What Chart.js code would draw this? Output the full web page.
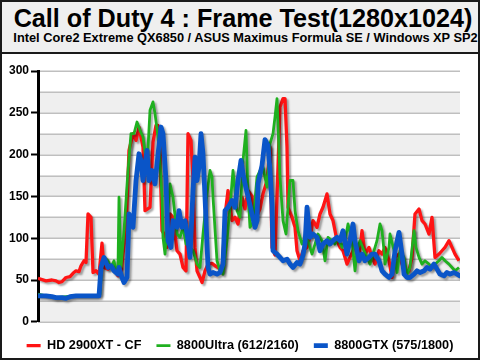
<!DOCTYPE html>
<html>
<head>
<meta charset="utf-8">
<script src="https://cdn.jsdelivr.net/npm/chart.js@4.4.0/dist/chart.umd.min.js"></script>
<style>
  html, body { margin: 0; padding: 0; background: #fff; }
  #frame {
    position: relative; width: 480px; height: 360px; box-sizing: border-box;
    border: 2px solid #1a1a1a; overflow: hidden; background: #fff;
    font-family: 'Liberation Sans', Arial, sans-serif; color: #000;
  }
  #header {
    position: absolute; left: 0; top: 0; width: 476px; height: 50px;
    background: #efefef; border-bottom: 2px solid #1a1a1a;
  }
  #title, #subtitle {
    position: absolute; width: 476px; text-align: center; font-weight: bold; white-space: nowrap;
  }
  #title { left: 3px; top: 3.8px; font-size: 25.2px; line-height: 25px; }
  #subtitle { left: 5.5px; top: 28.8px; font-size: 12.8px; line-height: 13px; }
  #plot { position: absolute; left: 0; top: 52px; }
</style>
</head>
<body>
<div id="frame">
  <div id="header">
    <div id="title">Call of Duty 4 : Frame Test(1280x1024)</div>
    <div id="subtitle">Intel Core2 Extreme QX6850 / ASUS Maximus Formula SE / Windows XP SP2</div>
  </div>
  <canvas id="plot" width="476" height="308"></canvas>
</div>
<script>
// --- DATA (sample index along the run, frames per second) ---
const seriesNames = ['HD 2900XT - CF', '8800Ultra (612/2160)', '8800GTX (575/1800)'];
const yTicks = [0, 50, 100, 150, 200, 250, 300];

const hdTime = [0, 4, 7, 9, 10.5, 12, 14, 16, 17.5, 19, 20.5, 21.5, 23, 24, 25, 26.5, 27.5, 29, 30.5, 32,
  33, 35, 36.5, 38, 40, 41.5, 42.5, 44, 45.5, 47.5, 49, 50.5, 52.5, 53.5, 56, 57.5, 59, 60, 61, 62,
  63, 64.5, 66, 67.5, 69.5, 71, 72.5, 74, 75, 76.5, 77.5, 78.5, 79.5, 81, 82, 83.5, 85, 87, 88.5, 90,
  92, 92.5, 94, 95, 97, 98.5, 100, 102, 103.5, 105, 107, 108.5, 111, 112.5, 114.5, 116, 117, 118.5, 119.5, 121,
  122.5, 123.5, 124.5, 125, 127, 128.5, 129.5, 131, 132.5, 134.5, 136, 137.5, 139.5, 141, 142.5, 144.5, 146, 147.5, 149.5, 151,
  152.5, 154.5, 156, 157.5, 158.5, 160.5, 162, 163.5, 165.5, 167, 168.5, 170.5, 172, 173.5, 175.5, 177, 178.5, 180.5, 182, 183.5,
  185.5, 187, 188.5, 190.5, 192, 193.5, 195.5, 197, 198.5, 200.5, 202, 203.5, 205.5, 207, 208.5, 210.5];
const hdFps = [52, 49, 50, 49, 47, 48, 53, 54, 58, 61, 60, 67, 73, 71, 129, 125, 59, 61, 57, 94,
  65, 63, 67, 62, 55, 57, 81, 109, 205, 225, 217, 233, 209, 133, 137, 215, 235, 235, 197, 109,
  105, 89, 129, 125, 85, 81, 65, 61, 225, 217, 169, 89, 61, 53, 47, 61, 69, 70, 67, 65,
  61, 81, 137, 157, 121, 125, 117, 149, 135, 157, 150, 121, 135, 153, 169, 209, 89, 80, 150, 257,
  267, 267, 209, 137, 125, 113, 85, 73, 85, 89, 101, 121, 113, 129, 137, 153, 129, 121, 97, 89,
  85, 69, 77, 85, 93, 77, 109, 81, 89, 77, 69, 85, 81, 89, 73, 53, 77, 81, 69, 61,
  61, 77, 129, 135, 121, 117, 105, 125, 77, 81, 85, 89, 97, 89, 81, 73];

const ultraTime = [0, 4, 9, 14, 19, 24, 29, 31, 32, 33, 35, 36.5, 38, 39, 40, 40.5, 41.5, 43, 45, 46.5,
  48, 49.5, 51, 52.5, 54.5, 56, 57.5, 58.5, 60, 61, 62, 62.5, 63.5, 65, 66, 67.5, 69.5, 71, 72.5, 74,
  75, 76, 77.5, 79.5, 81, 82.5, 84.5, 86, 87, 87.5, 89.5, 91, 92.5, 94.5, 96, 97.5, 99.5, 101, 102.5, 104,
  105, 106, 107.5, 109.5, 111, 112.5, 114.5, 116, 117.5, 118.5, 119.5, 121, 122.5, 124, 125, 126, 127.5, 128.5, 130, 132,
  133.5, 135, 137, 138.5, 140, 142, 143.5, 145, 147, 148.5, 150, 152, 153.5, 155, 157, 158.5, 159.5, 161, 163, 164.5,
  166, 168, 169.5, 171, 172, 173, 173.5, 175.5, 176, 178, 179.5, 181, 183, 184.5, 186, 188, 189, 190.5, 192, 193.5,
  195.5, 197, 198.5, 200.5, 202, 203.5, 205.5, 207, 208.5, 210.5];
const ultraFps = [33, 31, 29, 30, 31, 31, 31, 33, 70, 77, 73, 65, 73, 61, 65, 149, 65, 109, 181, 225,
  225, 239, 229, 221, 185, 253, 263, 249, 221, 189, 149, 101, 81, 133, 165, 149, 105, 101, 113, 93,
  97, 89, 85, 69, 65, 105, 153, 181, 173, 149, 73, 61, 57, 97, 137, 181, 133, 125, 193, 229,
  153, 113, 119, 173, 181, 185, 161, 213, 225, 245, 267, 173, 121, 105, 137, 169, 169, 133, 109, 93,
  101, 97, 81, 93, 105, 97, 73, 101, 97, 93, 101, 89, 97, 117, 97, 61, 85, 97, 85, 77,
  69, 85, 97, 117, 109, 85, 69, 89, 105, 85, 59, 85, 77, 57, 65, 109, 89, 77, 69, 73,
  69, 65, 69, 73, 77, 73, 69, 65, 61, 65];

const gtxTime = [0, 4, 7, 9, 12, 14, 16, 19, 24, 29, 30.5, 31.5, 33, 35, 36.5, 38, 40, 40.5, 42, 43,
  44.5, 45.5, 47.5, 49, 50.5, 51.5, 52.5, 54.5, 55.5, 57, 58.5, 60, 61.5, 62.5, 64, 65, 66.5, 67.5, 69.5, 70.5,
  72, 73.5, 75, 76, 77.5, 78.5, 79.5, 80.5, 81.5, 82.5, 83.5, 84.5, 85, 86, 87.5, 89.5, 91, 92.5, 93.5, 95,
  97, 98.5, 100, 101.5, 102.5, 103.5, 105, 107, 108.5, 109.5, 110, 112, 113.5, 115, 116, 117, 117.5, 119.5, 121, 122.5,
  124.5, 126, 127.5, 129.5, 131, 132.5, 133.5, 134.5, 136, 137.5, 139.5, 141, 142.5, 144.5, 146, 147.5, 149.5, 151, 152.5, 154.5,
  156, 157.5, 158.5, 160.5, 162, 163.5, 165.5, 167, 168.5, 170.5, 172, 173.5, 175.5, 177, 178.5, 180.5, 182, 183, 184.5, 186,
  188, 189.5, 191, 193, 194.5, 196, 198, 199.5, 201, 203, 204.5, 206, 208, 209.5, 211];
const gtxFps = [31, 31, 30, 29, 29, 28, 30, 31, 31, 31, 31, 65, 77, 65, 67, 61, 57, 65, 53, 47,
  53, 129, 113, 169, 201, 193, 169, 205, 169, 181, 165, 200, 233, 225, 169, 97, 89, 121, 113, 133,
  113, 121, 97, 77, 157, 197, 169, 185, 225, 201, 149, 93, 65, 57, 59, 57, 59, 69, 133, 137,
  145, 137, 169, 193, 177, 165, 150, 129, 113, 121, 165, 187, 218, 211, 181, 140, 85, 81, 77, 73,
  75, 69, 65, 71, 69, 80, 93, 137, 101, 105, 101, 85, 93, 97, 93, 97, 101, 97, 109, 81,
  97, 117, 97, 73, 81, 73, 77, 81, 81, 73, 61, 57, 53, 57, 85, 107, 81, 57, 53, 53,
  57, 61, 59, 61, 65, 63, 69, 63, 57, 55, 59, 57, 59, 57, 55];

// --- STYLE ---
const seriesColors = ['#ff1414', '#1fb01f', '#0a55c8'];
const seriesWidths = [3.3, 2.8, 4.8];
const bandStep = 25;

const toPoints = (times, values) => times.map((t, i) => ({ x: t, y: values[i] }));

// alternating grey / white bands with grey rules every 25 fps
const bandsPlugin = {
  id: 'bands',
  beforeDraw(chart) {
    const { ctx, chartArea: a, scales: { y } } = chart;
    ctx.save();
    for (let v = y.min, k = 0; v < y.max; v += bandStep, k++) {
      if (k % 2 === 0) {
        const top = y.getPixelForValue(v + bandStep);
        ctx.fillStyle = '#efefef';
        ctx.fillRect(a.left, top, a.right - a.left, y.getPixelForValue(v) - top);
      }
    }
    ctx.strokeStyle = '#bfbfbf';
    ctx.lineWidth = 1.6;
    for (let v = y.min; v <= y.max; v += bandStep) {
      const py = Math.round(y.getPixelForValue(v)) + 0.25;
      ctx.beginPath();
      ctx.moveTo(a.left, py);
      ctx.lineTo(a.right, py);
      ctx.stroke();
    }
    ctx.restore();
  }
};

// soft drop shadow under the lines
const shadowPlugin = {
  id: 'lineShadow',
  beforeDatasetsDraw(chart) {
    const ctx = chart.ctx;
    ctx.save();
    ctx.shadowColor = 'rgba(0,0,0,0.35)';
    ctx.shadowBlur = 2;
    ctx.shadowOffsetX = 2;
    ctx.shadowOffsetY = 2;
  },
  afterDatasetsDraw(chart) {
    chart.ctx.restore();
  }
};

const makeSet = (i, times, values, order) => ({
  label: seriesNames[i],
  data: toPoints(times, values),
  borderColor: seriesColors[i],
  backgroundColor: seriesColors[i],
  borderWidth: seriesWidths[i],
  borderJoinStyle: 'round',
  borderCapStyle: i === 2 ? 'round' : 'butt',
  pointRadius: 0,
  tension: 0,
  order: order
});

new Chart(document.getElementById('plot'), {
  type: 'line',
  data: {
    datasets: [
      makeSet(0, hdTime, hdFps, 2),
      makeSet(1, ultraTime, ultraFps, 1),
      makeSet(2, gtxTime, gtxFps, 0)
    ]
  },
  options: {
    responsive: false,
    animation: false,
    events: [],
    layout: { padding: { top: 17, right: 0, left: 0, bottom: 0 } },
    scales: {
      x: {
        type: 'linear',
        min: 0,
        max: 211,
        ticks: { display: false },
        grid: { display: false, drawTicks: false },
        border: { display: false },
        afterFit: (s) => { s.height = 2.5; }
      },
      y: {
        min: yTicks[0],
        max: yTicks[yTicks.length - 1],
        ticks: {
          stepSize: yTicks[1] - yTicks[0],
          padding: 2,
          color: '#000',
          font: { family: 'Liberation Sans', size: 12, weight: 'bold' }
        },
        grid: { drawOnChartArea: false, drawTicks: true, tickLength: 7, tickColor: '#000', tickWidth: 2 },
        border: { display: true, color: '#000', width: 3 },
        afterFit: (s) => { s.width = 36; }
      },
      // empty right-hand margin, keeps the legend centred on the whole frame
      yGap: {
        position: 'right',
        display: true,
        min: yTicks[0],
        max: yTicks[yTicks.length - 1],
        ticks: { display: false },
        grid: { display: false, drawTicks: false },
        border: { display: false },
        afterFit: (s) => { s.width = 18; }
      }
    },
    plugins: {
      tooltip: { enabled: false },
      legend: {
        position: 'bottom',
        labels: {
          usePointStyle: true,
          pointStyle: 'line',
          pointStyleWidth: 14,
          padding: 15,
          color: '#000',
          font: { family: 'Liberation Sans', size: 12.7, weight: 'bold' },
          sort: (a, b) => a.datasetIndex - b.datasetIndex
        }
      }
    }
  },
  plugins: [bandsPlugin, shadowPlugin]
});
</script>
</body>
</html>
